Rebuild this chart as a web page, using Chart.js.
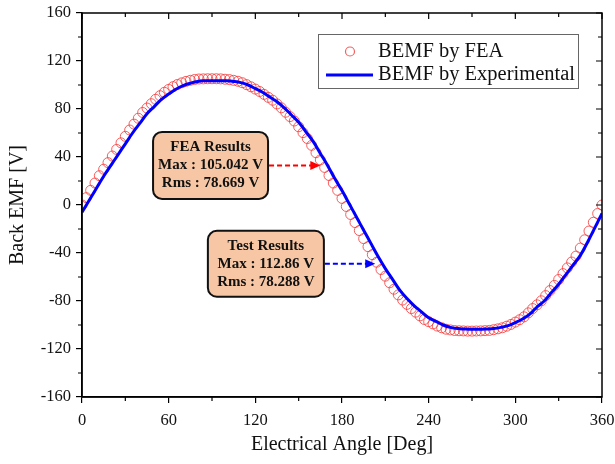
<!DOCTYPE html>
<html>
<head>
<meta charset="utf-8">
<script src="https://cdn.jsdelivr.net/npm/chart.js@4.4.0/dist/chart.umd.min.js"></script>
<style>
  html, body { margin: 0; padding: 0; background: #fff; }
</style>
</head>
<body>
<canvas id="bemf-chart" width="615" height="464"></canvas>
<script>
// FEA samples (every 3 deg)
const feaAngles = [
  0, 3, 6, 9, 12, 15, 18, 21, 24, 27, 30, 33, 36, 39, 42, 45, 48, 51, 54, 57,
  60, 63, 66, 69, 72, 75, 78, 81, 84, 87, 90, 93, 96, 99, 102, 105, 108, 111, 114, 117,
  120, 123, 126, 129, 132, 135, 138, 141, 144, 147, 150, 153, 156, 159, 162, 165, 168, 171, 174, 177,
  180, 183, 186, 189, 192, 195, 198, 201, 204, 207, 210, 213, 216, 219, 222, 225, 228, 231, 234, 237,
  240, 243, 246, 249, 252, 255, 258, 261, 264, 267, 270, 273, 276, 279, 282, 285, 288, 291, 294, 297,
  300, 303, 306, 309, 312, 315, 318, 321, 324, 327, 330, 333, 336, 339, 342, 345, 348, 351, 354, 357,
  360
];
const feaValues = [
  0, 6.1, 12.2, 18.3, 24.4, 29.8, 35.3, 40.8, 46.3, 51.8, 57.2, 62.5, 67.4, 72.3, 77.1, 80.8, 84.4, 88.1, 91.1, 93.9,
  96.3, 98.6, 100.4, 101.8, 103.0, 103.9, 104.6, 105.0, 105.1, 105.2, 105.2, 105.2, 105.1, 104.8, 104.5, 103.9, 103.1, 101.9, 100.3, 98.5,
  96.6, 94.6, 92.2, 89.7, 87.3, 84.2, 81.0, 77.3, 73.7, 70.0, 65.2, 60.3, 55.4, 49.7, 43.6, 37.6, 31.3, 24.6, 18.3, 12.2,
  5.5, -1.2, -7.9, -14.6, -21.3, -28.0, -34.7, -41.4, -47.7, -53.8, -59.3, -64.8, -70.2, -74.9, -79.2, -82.8, -86.3, -89.3, -92.4, -95.4,
  -97.2, -99.1, -100.9, -102.3, -103.5, -104.1, -104.6, -104.8, -104.9, -105.1, -105.1, -105.0, -104.9, -104.7, -104.5, -103.9, -103.2, -102.3, -101.0, -99.5,
  -97.6, -95.6, -93.2, -89.9, -86.3, -83.2, -79.8, -75.5, -71.3, -67.0, -62.1, -57.2, -52.4, -47.5, -42.6, -35.9, -29.0, -21.7, -14.4, -7.1,
  0
];

// experimental samples (every 5 deg)
const expAngles = [
  0, 5, 10, 15, 20, 25, 30, 35, 40, 45, 50, 55, 60, 65, 70, 75, 80, 85, 90, 95,
  100, 105, 110, 115, 120, 125, 130, 135, 140, 145, 150, 155, 160, 165, 170, 175, 180, 185, 190, 195,
  200, 205, 210, 215, 220, 225, 230, 235, 240, 245, 250, 255, 260, 265, 270, 275, 280, 285, 290, 295,
  300, 305, 310, 315, 320, 325, 330, 335, 340, 345, 350, 355, 360
];
const expValues = [
  -6, 4, 14, 24, 33, 42, 51, 60, 68, 76, 82, 88, 92.5, 96.5, 99.5, 101.5, 103, 103.5, 103.6, 103.6,
  103.5, 103, 102, 100, 97, 94, 90, 86, 81, 75, 69, 61, 53, 43, 33, 22, 12, 1, -10, -21,
  -32, -43, -53, -62, -71, -78, -84, -89, -94, -97, -100, -102, -103, -103.3, -103.5, -103.5, -103.3, -103, -102, -100.5,
  -98, -95, -91, -85, -80, -73, -66, -58, -50, -42, -31, -19, -7
];

const xTicks = [0, 60, 120, 180, 240, 300, 360];
const xMinor = [30, 90, 150, 210, 270, 330];
const yTicks = [-160, -120, -80, -40, 0, 40, 80, 120, 160];
const yMinor = [-140, -100, -60, -20, 20, 60, 100, 140];

const seriesNames = ['BEMF by FEA', 'BEMF by Experimental'];

// annotation boxes: text, box centre (deg, V), arrow tip (deg)
const feaNote = ['FEA Results', 'Max : 105.042 V', 'Rms : 78.669 V'];
const testNote = ['Test Results', 'Max : 112.86 V', 'Rms : 78.288 V'];

const SERIF = '"Liberation Serif", "Times New Roman", serif';
const FEA_RED = 'rgba(245, 55, 55, 0.8)';
const EXP_BLUE = '#0000ff';

const notes = [
  { lines: feaNote, cx: 89, cy: 33, w: 115, h: 67, tipX: 165, color: '#ff0000' },
  { lines: testNote, cx: 127.3, cy: -49, w: 116, h: 66, tipX: 203, color: '#0000ff' }
];

const framePlugin = {
  id: 'framePlugin',
  afterDatasetsDraw(chart) {
    const { ctx, chartArea: a, scales } = chart;
    const xs = scales.x, ys = scales.y;
    ctx.save();
    ctx.strokeStyle = '#000';
    ctx.lineWidth = 1.5;
    ctx.strokeRect(a.left, a.top, a.right - a.left, a.bottom - a.top);

    ctx.lineWidth = 1.2;
    ctx.beginPath();
    // top / right ticks point inward
    xTicks.forEach(v => {
      const px = xs.getPixelForValue(v);
      ctx.moveTo(px, a.top); ctx.lineTo(px, a.top + 6);
    });
    xMinor.forEach(v => {
      const px = xs.getPixelForValue(v);
      ctx.moveTo(px, a.top); ctx.lineTo(px, a.top + 4);
      ctx.moveTo(px, a.bottom); ctx.lineTo(px, a.bottom + 4);
    });
    yTicks.forEach(v => {
      const py = ys.getPixelForValue(v);
      ctx.moveTo(a.right, py); ctx.lineTo(a.right - 6, py);
    });
    yMinor.forEach(v => {
      const py = ys.getPixelForValue(v);
      ctx.moveTo(a.right, py); ctx.lineTo(a.right - 4, py);
      ctx.moveTo(a.left, py); ctx.lineTo(a.left - 4, py);
    });
    ctx.stroke();

    // annotation boxes and arrows
    notes.forEach(n => {
      const cx = xs.getPixelForValue(n.cx), cy = ys.getPixelForValue(n.cy);
      const x0 = cx - n.w / 2, y0 = cy - n.h / 2;
      const tip = xs.getPixelForValue(n.tipX);

      ctx.setLineDash([5, 3]);
      ctx.strokeStyle = n.color;
      ctx.lineWidth = 2;
      ctx.beginPath();
      ctx.moveTo(x0 + n.w + 1, cy);
      ctx.lineTo(tip - 8, cy);
      ctx.stroke();
      ctx.setLineDash([]);
      ctx.fillStyle = n.color;
      ctx.beginPath();
      ctx.moveTo(tip, cy);
      ctx.lineTo(tip - 10, cy - 4.5);
      ctx.lineTo(tip - 10, cy + 4.5);
      ctx.closePath();
      ctx.fill();

      ctx.fillStyle = '#f7c6a4';
      ctx.strokeStyle = '#111';
      ctx.lineWidth = 2;
      ctx.beginPath();
      ctx.roundRect(x0, y0, n.w, n.h, 9);
      ctx.fill();
      ctx.stroke();

      ctx.fillStyle = '#111';
      ctx.font = 'bold 15px ' + SERIF;
      ctx.textAlign = 'center';
      ctx.textBaseline = 'middle';
      n.lines.forEach((t, i) => ctx.fillText(t, cx, cy - 18 + i * 18));
    });

    // legend
    const lx = a.right - 284, ly = a.top + 21;
    ctx.fillStyle = '#fff';
    ctx.fillRect(lx, ly, 260, 54);
    ctx.strokeStyle = '#666';
    ctx.lineWidth = 1;
    ctx.strokeRect(lx + 0.5, ly + 0.5, 260, 54);

    ctx.strokeStyle = FEA_RED;
    ctx.lineWidth = 1.2;
    ctx.beginPath();
    ctx.arc(lx + 32, ly + 17.5, 4.5, 0, Math.PI * 2);
    ctx.stroke();

    ctx.strokeStyle = EXP_BLUE;
    ctx.lineWidth = 3;
    ctx.beginPath();
    ctx.moveTo(lx + 8, ly + 41);
    ctx.lineTo(lx + 55, ly + 41);
    ctx.stroke();

    ctx.fillStyle = '#111';
    ctx.font = '20.5px ' + SERIF;
    ctx.textAlign = 'left';
    ctx.textBaseline = 'middle';
    ctx.fillText(seriesNames[0], lx + 60, ly + 18);
    ctx.fillText(seriesNames[1], lx + 60, ly + 41);
    ctx.restore();
  }
};

new Chart(document.getElementById('bemf-chart'), {
  type: 'line',
  data: {
    datasets: [
      {
        label: seriesNames[0],
        data: feaAngles.map((a, i) => ({ x: a, y: feaValues[i] })),
        showLine: false,
        pointStyle: 'circle',
        pointRadius: 5,
        pointBorderWidth: 1,
        pointBorderColor: FEA_RED,
        pointBackgroundColor: 'rgba(0,0,0,0)',
        order: 2
      },
      {
        label: seriesNames[1],
        data: expAngles.map((a, i) => ({ x: a, y: expValues[i] })),
        borderColor: EXP_BLUE,
        borderWidth: 3,
        pointRadius: 0,
        tension: 0.4,
        fill: false,
        order: 1
      }
    ]
  },
  options: {
    responsive: false,
    animation: false,
    events: [],
    layout: { padding: { top: 13, right: 13, left: 0, bottom: 0 } },
    plugins: { legend: { display: false }, tooltip: { enabled: false } },
    scales: {
      x: {
        type: 'linear',
        min: 0,
        max: 360,
        afterFit: s => { s.height = 67; s.paddingLeft = 0; s.paddingRight = 0; },
        afterBuildTicks: s => { s.ticks = xTicks.map(v => ({ value: v })); },
        grid: { drawOnChartArea: false, drawTicks: true, tickLength: 6, color: '#000', lineWidth: 1.2 },
        border: { display: true, color: '#000', width: 1.5 },
        ticks: { color: '#111', font: { family: SERIF, size: 16.5 }, padding: 8, maxRotation: 0 },
        title: { display: true, text: 'Electrical Angle [Deg]', color: '#111', font: { family: SERIF, size: 20 }, padding: { top: 0, bottom: 7 } }
      },
      y: {
        type: 'linear',
        min: -160,
        max: 160,
        afterFit: s => { s.width = 82; s.paddingTop = 0; s.paddingBottom = 0; },
        afterBuildTicks: s => { s.ticks = yTicks.map(v => ({ value: v })); },
        grid: { drawOnChartArea: false, drawTicks: true, tickLength: 6, color: '#000', lineWidth: 1.2 },
        border: { display: true, color: '#000', width: 1.5 },
        ticks: { color: '#111', font: { family: SERIF, size: 16.5 }, padding: 5 },
        title: { display: true, text: 'Back EMF [V]', color: '#111', font: { family: SERIF, size: 20 }, padding: { top: 6, bottom: 0 } }
      }
    }
  },
  plugins: [framePlugin]
});
</script>
</body>
</html>
